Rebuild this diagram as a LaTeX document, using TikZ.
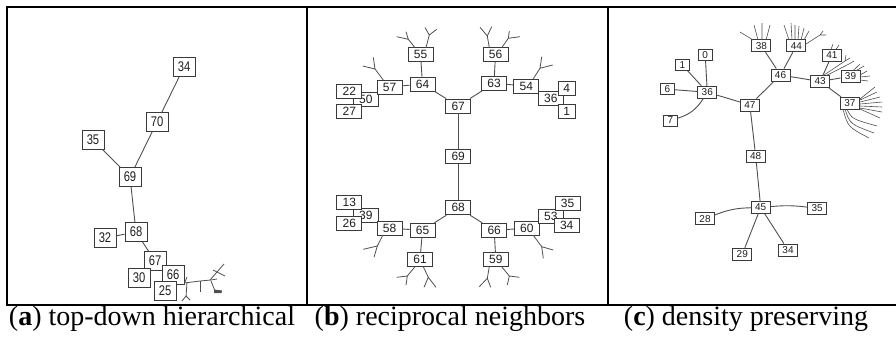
\documentclass[tikz,border=0pt]{standalone}
\usepackage{fontspec}
\setmainfont{Liberation Serif}
\setsansfont{Liberation Sans}
\usetikzlibrary{calc}
\definecolor{boxline}{HTML}{3A3A3A}
\definecolor{edgeline}{HTML}{505050}
\definecolor{numtext}{HTML}{1E1E1E}
\newcommand{\condensed}[1]{\scalebox{0.8}[1]{#1}}

\begin{document}
\begin{tikzpicture}[x=1pt,y=-1pt,
  frame/.style={line width=2.4pt, line cap=rect},
  boxbase/.style={draw=boxline, fill=white, line width=0.9pt, inner sep=0pt, text=numtext},
  boxa/.style={boxbase, minimum width=22pt, minimum height=19pt, font=\sffamily\fontsize{14}{14}\selectfont},
  boxb/.style={boxbase, minimum width=25pt, minimum height=14pt, font=\sffamily\fontsize{12}{12}\selectfont},
  boxbs/.style={boxb, minimum width=17pt},
  boxc/.style={boxbase, minimum width=19pt, minimum height=12pt, font=\sffamily\fontsize{10}{10}\selectfont},
  boxcs/.style={boxc, minimum width=14pt, minimum height=11pt},
  edge/.style={draw=edgeline, line width=0.9pt},
  twig/.style={draw=edgeline, line width=0.8pt},
  fan/.style={draw=edgeline, line width=0.6pt},
  caption/.style={font=\fontsize{28}{28}\selectfont, anchor=base, inner sep=0pt}
]
\useasboundingbox (0,0) rectangle (896,338);
\fill[white] (0,0) rectangle (896,338);

% ---------- panel (a): top-down hierarchical ----------
\node[boxa] (a34) at (184,67)  {\condensed{34}};
\node[boxa] (a70) at (157,122) {\condensed{70}};
\node[boxa] (a35) at (93,140)  {\condensed{35}};
\node[boxa] (a69) at (130,177) {\condensed{69}};
\node[boxa] (a68) at (136,232) {\condensed{68}};
\node[boxa] (a32) at (105,238) {\condensed{32}};
\node[boxa] (a67) at (155,261) {\condensed{67}};
\node[boxa] (a30) at (139,278) {\condensed{30}};
\node[boxa] (a66) at (173,275) {\condensed{66}};
\node[boxa] (a25) at (165,291) {\condensed{25}};

\draw[edge] (a34) -- (a70);
\draw[edge] (a70) -- (a69);
\draw[edge] (a35) -- (a69);
\draw[edge] (a69) -- (a68);
\draw[edge] (a32) -- (a68);
\draw[edge] (a68) -- (a67);

% twigs to the right of 66
\draw[twig] ([yshift=2pt]a66.south east) -- (200,281) -- (211,280) -- (217,279);
\draw[twig] (187,282) -- (186,297) (182,301) -- (186,296) -- (190,300);
\draw[twig] (185,282) -- (187,277);
\draw[twig] (200,281) -- (200,292);
\draw[twig] (210,280) -- (217,272) -- (224,264) (217,272) -- (225,276) (217,272) -- (213,270);
\draw[twig] (211,281) -- (215,291) -- (221,292);
\fill[edgeline] (214,289.5) -- (222,290.5) -- (221.5,293) -- (214,293) -- cycle;

% ---------- panel (b): reciprocal neighbors ----------
\draw[edge] (458.2,106) -- (458.2,207.8);

\node[boxb] (b50) at (365.8,99.2)  {50};
\node[boxb] (b22) at (349.3,91.3)  {22};
\node[boxb] (b27) at (349.3,111.3) {27};
\node[boxb] (b57) at (389.5,87)    {57};
\node[boxb] (b64) at (422.5,84)    {64};
\node[boxb] (b55) at (420.5,54.3)  {55};
\node[boxb] (b67) at (458.2,106)   {67};
\node[boxb] (b63) at (494,83.3)    {63};
\node[boxb] (b56) at (495.5,54.3)  {56};
\node[boxb] (b54) at (526.3,86)    {54};
\node[boxb] (b36) at (550.8,98.5)  {36};
\node[boxbs] (b4) at (566.7,88)    {4};
\node[boxbs] (b1) at (566.7,111.2) {1};
\node[boxb] (b69) at (458.2,156.7) {69};
\node[boxb] (b68) at (458.2,207.8) {68};
\node[boxb] (b39) at (365.8,215.5) {39};
\node[boxb] (b13) at (349.3,202.7) {13};
\node[boxb] (b26) at (349.3,223)   {26};
\node[boxb] (b58) at (389.5,228.2) {58};
\node[boxb] (b65) at (422.5,230.3) {65};
\node[boxb] (b66) at (494.2,230.3) {66};
\node[boxb] (b60) at (526.8,228.2) {60};
\node[boxb] (b53) at (550.8,216.2) {53};
\node[boxb] (b35) at (567.5,203.7) {35};
\node[boxb] (b34) at (566.7,225.5) {34};
\node[boxb] (b61) at (420,259.7)   {61};
\node[boxb] (b59) at (495.8,259.7) {59};

\draw[edge] (b67) -- (b69);
\draw[edge] (b69) -- (b68);
\draw[edge] (b64) -- (b67);
\draw[edge] (b63) -- (b67);
\draw[edge] (b55) -- (b64);
\draw[edge] (b56) -- (b63);
\draw[edge] (b57) -- (b64);
\draw[edge] (b63) -- (b54);
\draw[edge] (b68) -- (b65);
\draw[edge] (b68) -- (b66);
\draw[edge] (b58) -- (b65);
\draw[edge] (b66) -- (b60);
\draw[edge] (b65) -- (b61);
\draw[edge] (b66) -- (b59);

% forks above the upper nodes
\draw[twig] (415,47.7) -- (408.3,39.3) -- (396.7,36.7) (408.3,39.3) -- (406,31.7);
\draw[twig] (426,47.7) -- (429.3,35) -- (425,27.5) (429.3,35) -- (436.7,29.3);
\draw[twig] (489.3,47.7) -- (487.3,36) -- (480,27.3) (487.3,36) -- (491.7,26.7);
\draw[twig] (501.7,47.7) -- (508.3,38.3) -- (509.3,31) (508.3,38.3) -- (520,36.7);
\draw[twig] (383.3,80) -- (375,69) -- (362.7,66) (375,69) -- (373.3,57.3);
\draw[twig] (533.3,78.7) -- (540,68.3) -- (541.7,56.7) (540,68.3) -- (552.7,65);
% forks below the lower nodes
\draw[twig] (382.7,235.3) -- (377.3,246) -- (363.3,249.3) (377.3,246) -- (374,257.3);
\draw[twig] (533.3,235.3) -- (541.7,246.7) -- (553.3,250) (541.7,246.7) -- (543.3,258.3);
\draw[twig] (415,266.7) -- (407.3,276) -- (396.7,277.3) (407.3,276) -- (406,285);
\draw[twig] (423.3,266.7) -- (428.3,277.3) -- (424,287.3) (428.3,277.3) -- (436,287.3);
\draw[twig] (489.3,266.7) -- (487.3,278.3) -- (479.3,286.7) (487.3,278.3) -- (490.7,287.3);
\draw[twig] (501.7,266.7) -- (509.3,276) -- (507.3,285) (509.3,276) -- (519.3,277.3);

% ---------- panel (c): density preserving ----------
\node[boxcs] (c0) at (705.2,54.7) {0};
\node[boxcs] (c1) at (682.3,65)   {1};
\node[boxcs] (c6) at (667.3,89.2) {6};
\node[boxc] (c36) at (707.3,92.2) {36};
\node[boxcs] (c7) at (670.5,120.5) {7};
\node[boxc] (c47) at (749.8,105)  {47};
\node[boxc] (c48) at (755.7,156.2) {48};
\node[boxc] (c38) at (761.3,45.8) {38};
\node[boxc] (c44) at (796.3,45.8) {44};
\node[boxc] (c46) at (780.5,75)   {46};
\node[boxc] (c43) at (820.2,81.5) {43};
\node[boxc] (c41) at (831.8,55.2) {41};
\node[boxc] (c39) at (850.5,76.2) {39};
\node[boxc] (c37) at (849.8,103.3) {37};
\node[boxc] (c45) at (760.7,207.5) {45};
\node[boxc] (c28) at (705,218.8)  {28};
\node[boxc] (c35) at (817.2,208.3) {35};
\node[boxc] (c29) at (742.3,254.2) {29};
\node[boxc] (c34) at (788,250)    {34};

\draw[edge] (c36) -- (c0);
\draw[edge] (c36) -- (c1);
\draw[edge] (c36) -- (c6);
\draw[edge] (c36) to[bend left=20] (c7);
\draw[edge] (c36) -- (c47);
\draw[edge] (c47) -- (c46);
\draw[edge] (c46) -- (c38);
\draw[edge] (c46) -- (c44);
\draw[edge] (c46) -- (c43);
\draw[edge] (c43) -- (c41);
\draw[edge] (c43) -- (c39);
\draw[edge] (c43) -- (c37);
\draw[edge] (c47) -- (c48);
\draw[edge] (c48) -- (c45);
\draw[edge] (c45) to[bend right=10] (c28);
\draw[edge] (c45) to[bend left=6] (c35);
\draw[edge] (c45) -- (c29);
\draw[edge] (c45) -- (c34);

% leaf fans
\draw[fan] (753,40) -- (740,32)  (758,40) -- (754,25)  (762,40) -- (762,23)  (766,40) -- (770,25);
\draw[fan] (789,40) -- (784,25)  (792,40) -- (791,23)  (795,40) -- (795,25)
           (798,40) -- (799,26)  (801,40) -- (804,28)  (804,40) -- (809,31);
\draw[fan] (806,44) -- (820,35) -- (823,31) (820,35) -- (826,35);
\draw[fan] (831,49.3) -- (833,44)  (836,49.3) -- (839,45);
\draw[fan] (823,75.7) -- (845,61) -- (846,55) (845,61) -- (850,58) (826,75.7) -- (849,64) -- (854,61);
\draw[fan] (860,75) -- (867,71)  (860,77) -- (870,76)  (860,80) -- (868,81)
           (853,70.7) -- (860,64)  (856,70.7) -- (864,66);
\draw[fan] (860,99) -- (875,87)  (860,100) -- (877,92)  (860,102) -- (880,97)
           (860,104) -- (882,102)  (860,106) -- (882,107)  (860,108) -- (882,112)
           (860,109) -- (880,118);
\draw[fan] (847,109.3) .. controls (852,119) .. (877,126)
           (845,109.3) .. controls (850,124) .. (874,133)
           (843,109.3) .. controls (848,127) .. (869,138);

% ---------- frames ----------
\draw[frame] (7,7) -- (896,7);
\draw[frame] (7,305) -- (896,305);
\draw[frame] (7,7) -- (7,305);
\draw[frame] (307,7) -- (307,305);
\draw[frame] (608,7) -- (608,305);

% ---------- captions ----------
\node[caption] (capa) at (152,325) {(\textbf{a}) top-down hierarchical};
\node[caption] (capb) at (450,325) {(\textbf{b}) reciprocal neighbors};
\node[caption] (capc) at (746,325) {(\textbf{c}) density preserving};
\end{tikzpicture}
\end{document}
